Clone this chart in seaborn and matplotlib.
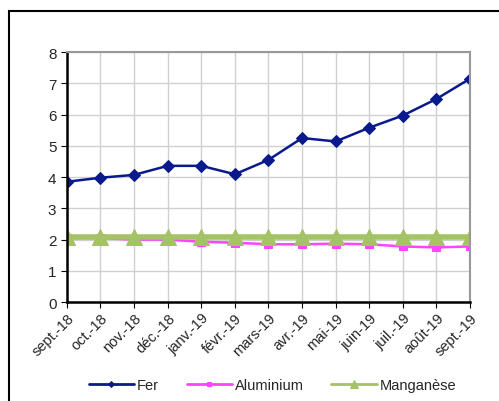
import numpy as np
import pandas as pd
import seaborn as sns
from matplotlib import pyplot as plt
from matplotlib.patches import Rectangle

months = ['sept.-18', 'oct.-18', 'nov.-18', 'déc.-18', 'janv.-19', 'févr.-19', 'mars-19',
          'avr.-19', 'mai-19', 'juin-19', 'juil.-19', 'août-19', 'sept.-19']
fer = [3.85, 3.98, 4.07, 4.36, 4.36, 4.09, 4.55, 5.25, 5.14, 5.58, 5.97, 6.5, 7.15]
aluminium = [2.05, 2.05, 2.0, 2.0, 1.93, 1.9, 1.85, 1.85, 1.87, 1.85, 1.78, 1.75, 1.78]
manganese = [2.08] * 13

sns.set_style('white')
plt.rcParams['font.family'] = ['Liberation Sans', 'DejaVu Sans']

fig = plt.figure(figsize=(4.99, 4.02), dpi=100)
ax = fig.add_axes([0.134, 0.246, 0.808, 0.622])

x = np.arange(len(months))
sns.lineplot(x=x, y=fer, ax=ax, color='#0A1A8C', marker='D', markersize=6,
             markeredgecolor='#0A1A8C', linewidth=1.8, label='Fer')
sns.lineplot(x=x, y=aluminium, ax=ax, color='#FF44FF', marker='s', markersize=6,
             markeredgecolor='#FF44FF', linewidth=1.8, label='Aluminium')
sns.lineplot(x=x, y=manganese, ax=ax, color='#A4C266', marker='^', markersize=11,
             markeredgecolor='#A4C266', linewidth=4, label='Manganèse')

ax.set_xlim(0, len(months) - 1)
ax.set_ylim(0, 8)
ax.set_yticks(range(0, 9))
ax.set_xticks(x)
ax.set_xticklabels(months, rotation=45, ha='right', rotation_mode='anchor', fontsize=10.5)
ax.tick_params(axis='y', labelsize=11, length=4, direction='out', left=True, color='black')
ax.tick_params(axis='x', length=4, direction='out', bottom=True, color='black', pad=2)
ax.grid(True, color='#d0d0d0', linewidth=1)
ax.set_axisbelow(True)
for side in ['top', 'right']:
    ax.spines[side].set_color('#999999')
    ax.spines[side].set_linewidth(1.5)
for side in ['left', 'bottom']:
    ax.spines[side].set_color('black')
    ax.spines[side].set_linewidth(1.8)

leg = ax.legend(loc='upper center', bbox_to_anchor=(0.51, -0.25), ncol=3, frameon=False,
                fontsize=10.5, handlelength=3.1, handletextpad=0.2, columnspacing=1.9,
                markerscale=0.5)
for line in leg.get_lines():
    line.set_linewidth(2)

fig.patches.append(Rectangle((9 / 499, -0.1), 1.2, 1 - 12 / 402 + 0.1, transform=fig.transFigure,
                             fill=False, edgecolor='black', linewidth=1.5, clip_on=False))

fig.savefig('out.png', dpi=100)
